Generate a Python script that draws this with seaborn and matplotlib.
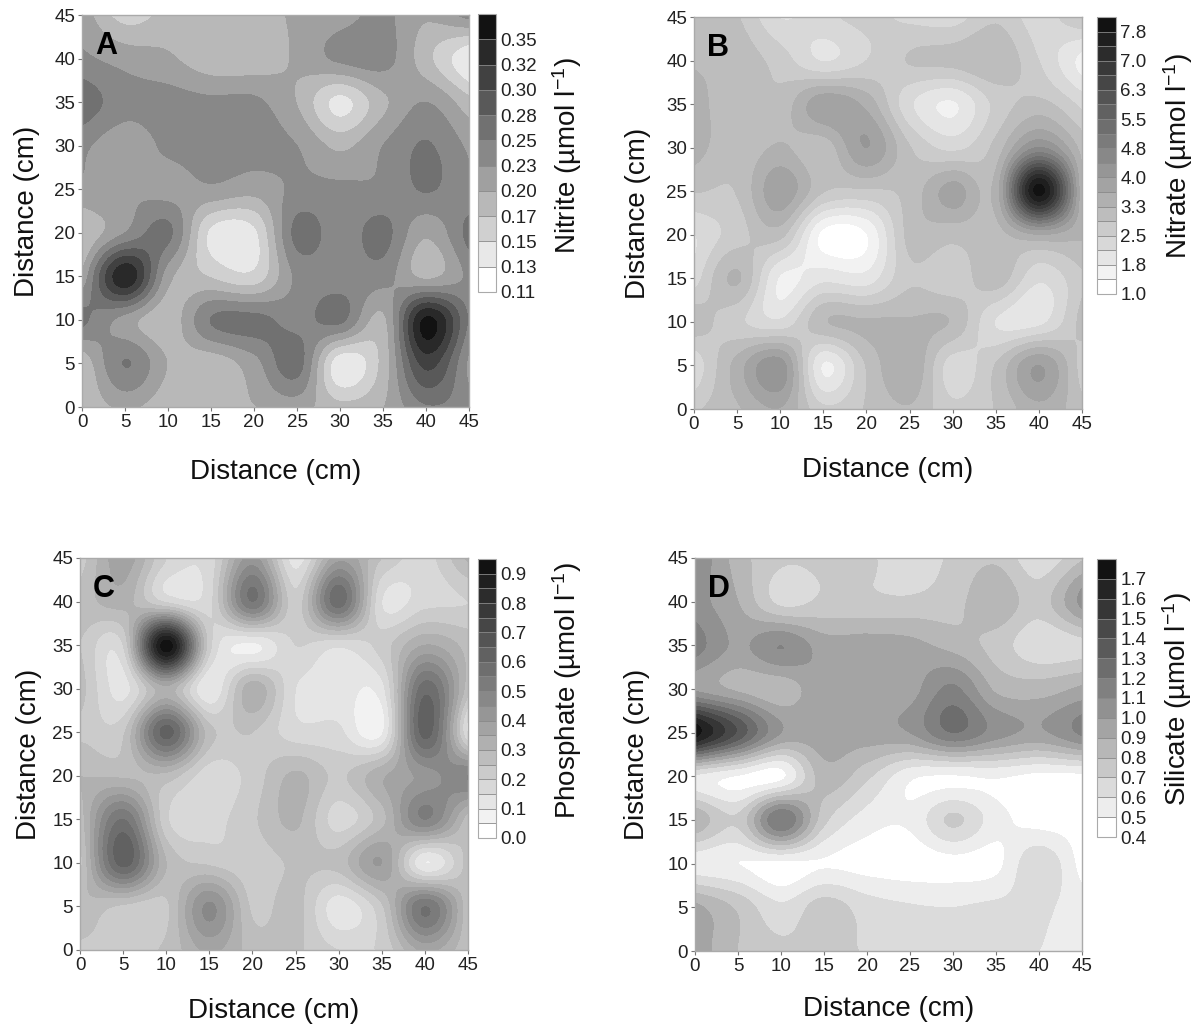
import numpy as np
import matplotlib
matplotlib.use("Agg")
import matplotlib.pyplot as plt
import seaborn as sns

# grid positions (cm), rows run from y=45 down to y=0
distance = [0, 5, 10, 15, 20, 25, 30, 35, 40, 45]
axis_ticks = [0, 5, 10, 15, 20, 25, 30, 35, 40, 45]

nitrite = [
    [.22, .17, .19, .195, .195, .21, .22, .235, .21, .24],
    [.235, .22, .21, .19, .19, .21, .235, .24, .19, .135],
    [.27, .24, .24, .235, .235, .205, .15, .20, .23, .19],
    [.235, .215, .235, .24, .24, .23, .20, .23, .256, .225],
    [.225, .228, .22, .225, .215, .235, .235, .235, .256, .235],
    [.18, .23, .26, .152, .152, .262, .24, .262, .21, .262],
    [.21, .345, .215, .18, .165, .235, .24, .24, .20, .235],
    [.26, .22, .19, .255, .262, .245, .26, .20, .355, .25],
    [.185, .255, .205, .19, .22, .265, .14, .19, .31, .225],
    [.185, .21, .19, .19, .205, .215, .19, .205, .25, .24],
]
nitrate = [
    [2.9, 2.9, 2.1, 2.4, 2.6, 2.4, 2.3, 2.8, 2.3, 2.9],
    [3.2, 3.1, 2.7, 2.1, 2.5, 2.9, 3.0, 3.2, 2.5, 1.6],
    [3.4, 3.0, 3.0, 3.9, 3.5, 2.2, 1.7, 2.6, 3.0, 2.4],
    [3.4, 3.0, 3.3, 3.0, 4.0, 2.9, 2.4, 3.0, 4.4, 3.1],
    [2.9, 2.9, 3.9, 2.9, 2.8, 3.0, 3.8, 3.4, 7.9, 3.3],
    [2.1, 2.7, 3.0, 1.25, 1.35, 3.0, 3.0, 3.1, 3.6, 3.3],
    [2.3, 3.3, 1.7, 2.0, 1.9, 2.8, 2.6, 3.1, 2.2, 2.8],
    [3.1, 2.6, 2.2, 3.2, 3.3, 3.3, 3.2, 2.1, 2.0, 3.0],
    [2.2, 3.4, 4.2, 1.7, 2.9, 3.6, 2.3, 2.9, 4.0, 2.7],
    [2.8, 3.2, 3.6, 2.6, 2.9, 3.2, 2.6, 2.9, 3.5, 3.0],
]
phosphate = [
    [.22, .38, .20, .17, .42, .12, .38, .25, .18, .31],
    [.27, .32, .19, .18, .55, .22, .58, .15, .18, .20],
    [.25, .20, .93, .22, .09, .20, .16, .22, .35, .28],
    [.27, .13, .33, .10, .33, .15, .13, .13, .58, .27],
    [.24, .24, .62, .27, .25, .17, .16, .09, .62, .14],
    [.30, .29, .28, .17, .22, .31, .24, .34, .42, .50],
    [.27, .55, .21, .18, .24, .31, .175, .28, .50, .27],
    [.23, .62, .30, .24, .22, .26, .27, .40, .10, .27],
    [.30, .24, .24, .46, .24, .27, .12, .24, .55, .26],
    [.23, .23, .26, .36, .28, .26, .20, .21, .36, .26],
]
silicate = [
    [1.10, .85, .72, .72, .72, .62, .72, .78, .62, .78],
    [1.05, .90, .67, .72, .72, .72, .76, .88, .75, 1.03],
    [1.15, .98, 1.10, .95, .95, .93, .86, .76, .62, .66],
    [.98, .88, .83, .98, .96, .96, 1.12, .88, .85, .92],
    [1.75, 1.38, 1.00, .96, .96, 1.00, 1.20, 1.05, .98, 1.12],
    [.58, .49, .47, .85, .72, .52, .49, .51, .47, .47],
    [.88, .72, 1.20, .73, .55, .52, .72, .54, .46, .46],
    [.54, .50, .47, .49, .46, .44, .46, .47, .68, .46],
    [.93, .78, .62, .75, .65, .61, .60, .62, .62, .55],
    [.97, .80, .74, .74, .69, .65, .64, .63, .60, .56],
]

nitrite_levels = [.11, .134, .158, .182, .206, .23, .254, .278, .302, .326, .35, .374]
nitrate_levels = [1.0, 1.375, 1.75, 2.125, 2.5, 2.875, 3.25, 3.625, 4.0, 4.375, 4.75,
                  5.125, 5.5, 5.875, 6.25, 6.625, 7.0, 7.375, 7.75, 8.3]
phosphate_levels = [0, .05, .1, .15, .2, .25, .3, .35, .4, .45, .5, .55, .6, .65, .7,
                    .75, .8, .85, .9, .95]
silicate_levels = [.4, .5, .6, .7, .8, .9, 1.0, 1.1, 1.2, 1.3, 1.4, 1.5, 1.6, 1.7, 1.8]

nitrite_labels = ["0.11", "0.13", "0.15", "0.17", "0.20", "0.23", "0.25", "0.28", "0.30", "0.32", "0.35"]
nitrate_labels = ["1.0", "1.8", "2.5", "3.3", "4.0", "4.8", "5.5", "6.3", "7.0", "7.8"]
phosphate_labels = ["0.0", "0.1", "0.2", "0.3", "0.4", "0.5", "0.6", "0.7", "0.8", "0.9"]
silicate_labels = ["0.4", "0.5", "0.6", "0.7", "0.8", "0.9", "1.0", "1.1", "1.2", "1.3", "1.4", "1.5", "1.6", "1.7"]

sns.set_style("white")
plt.rcParams["font.family"] = ["Liberation Sans", "DejaVu Sans"]
plt.rcParams["mathtext.default"] = "regular"

W, H = 1196, 1025


def box(left, top, right, bottom):
    # pixel box to figure fractions
    return [left / W, 1 - bottom / H, (right - left) / W, (bottom - top) / H]


def smooth(row, n=16):
    # Catmull-Rom along one line, only used to draw the grid values smoothly
    p = np.r_[2 * row[0] - row[1], row, 2 * row[-1] - row[-2]]
    out = []
    for i in range(1, len(p) - 2):
        t = np.linspace(0, 1, n, endpoint=False)
        out.append(0.5 * (2 * p[i] + (p[i + 1] - p[i - 1]) * t
                          + (2 * p[i - 1] - 5 * p[i] + 4 * p[i + 1] - p[i + 2]) * t**2
                          + (3 * p[i] - p[i - 1] - 3 * p[i + 1] + p[i + 2]) * t**3))
    out.append([row[-1]])
    return np.concatenate(out)


def panel(fig, values, levels, ticks_every, labels, letter, name, ax_box, cb_box, label_xy, xpad, ypad):
    ax = fig.add_axes(box(*ax_box))
    cax = fig.add_axes(box(*cb_box))
    z = np.array(values)[::-1]
    z = np.apply_along_axis(smooth, 1, z)
    z = np.apply_along_axis(smooth, 0, z)
    z = np.clip(z, levels[0], levels[-1])
    xs = np.linspace(distance[0], distance[-1], z.shape[1])
    colors = sns.blend_palette(["white", "#121212"], len(levels) - 1)
    cs = ax.contourf(xs, xs, z, levels=levels, colors=colors)

    ax.set_xlim(0, 45)
    ax.set_ylim(0, 45)
    ax.set_xticks(axis_ticks)
    ax.set_yticks(axis_ticks)
    ax.tick_params(labelsize=13.5, length=3, width=0.8, color="#777777", pad=2, labelcolor="#222222",
                   bottom=True, left=True)
    ax.set_xlabel("Distance (cm)", fontsize=20, labelpad=xpad, color="#111111")
    ax.set_ylabel("Distance (cm)", fontsize=20, labelpad=ypad, color="#111111")
    for s in ax.spines.values():
        s.set_color("#aaaaaa")
        s.set_linewidth(1)
    ax.text(0.062, 0.92, letter, transform=ax.transAxes, fontsize=22, fontweight="bold",
            ha="center", va="center", color="black")

    cb = fig.colorbar(cs, cax=cax, drawedges=True)
    cb.set_ticks(levels[::ticks_every][:len(labels)], labels=labels)
    cb.ax.tick_params(length=0, labelsize=13.5, pad=3, labelcolor="#222222")
    cb.dividers.set_color("#888888")
    cb.dividers.set_linewidth(0.6)
    cb.outline.set_edgecolor("#aaaaaa")
    cb.outline.set_linewidth(0.8)
    fig.text(label_xy[0] / W, 1 - label_xy[1] / H, name + " (µmol l$^{-1}$)", rotation=90,
             fontsize=20, ha="center", va="center", color="#111111")


fig = plt.figure(figsize=(W / 100, H / 100), dpi=100)
panel(fig, nitrite, nitrite_levels, 1, nitrite_labels, "A", "Nitrite",
      (82, 15, 469, 407), (478, 14, 496, 292), (567, 156), 20, 10)
panel(fig, nitrate, nitrate_levels, 2, nitrate_labels, "B", "Nitrate",
      (694, 17, 1082, 409), (1097, 17, 1116, 294), (1178, 156), 17, 11)
panel(fig, phosphate, phosphate_levels, 2, phosphate_labels, "C", "Phosphate",
      (80, 558, 468, 950), (478, 559, 496, 838), (567, 690), 17, 7)
panel(fig, silicate, silicate_levels, 1, silicate_labels, "D", "Silicate",
      (695, 558, 1082, 951), (1097, 559, 1116, 837), (1177, 699), 15, 12)

plt.savefig("out.png", dpi=100)
